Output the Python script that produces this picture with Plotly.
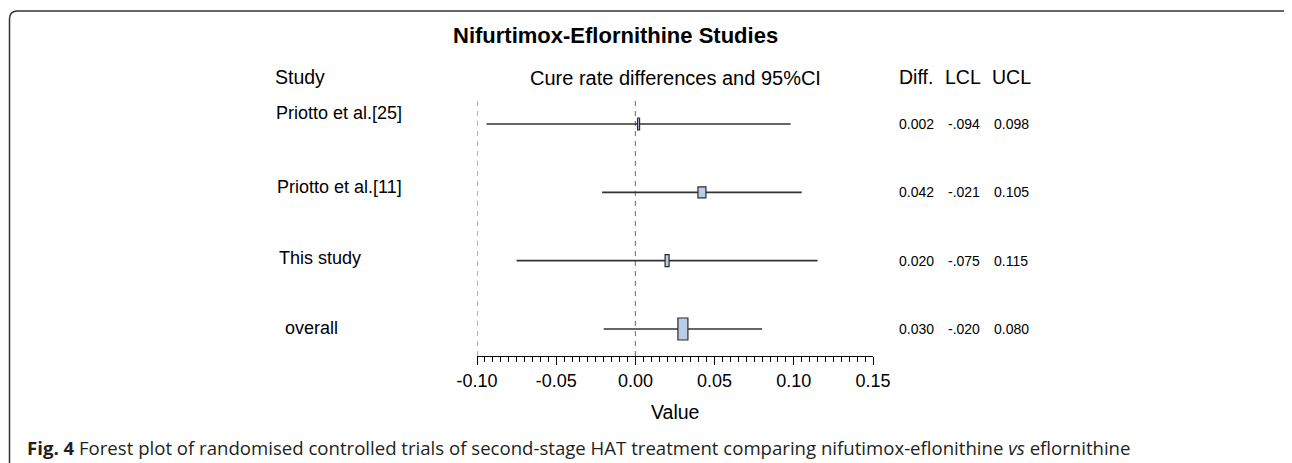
import plotly.graph_objects as go

# ---------------- data ----------------
studies = ["Priotto et al.[25]", "Priotto et al.[11]", "This study", "overall"]
diff = [0.002, 0.042, 0.020, 0.030]
lcl = [-0.094, -0.021, -0.075, -0.020]
ucl = [0.098, 0.105, 0.115, 0.080]
ref_lines = [-0.10, 0.00]
x_ticks = [-0.10, -0.05, 0.00, 0.05, 0.10, 0.15]

# ---------------- layout helpers (pixel geometry) ----------------
OFF = 8                      # default page body margin
W, H = 1292 - OFF, 463 - OFF
L, R, T, B = 477 - OFF, 873 - OFF, 98 - OFF, 356 - OFF
FONT = "Liberation Sans, Arial, sans-serif"


def pxx(x):
    """screen x -> paper x"""
    return (x - OFF - L) / (R - L)


def pxy(y):
    """screen y -> paper y"""
    return (B - (y - OFF)) / (B - T)


row_top_px, row_step_px = 124 - OFF, 68.333
y_lo = 3 + (B - (row_top_px + 3 * row_step_px)) / row_step_px
y_hi = -(row_top_px - T) / row_step_px

box_w = [2, 8, 4, 10]     # pixel sizes of the weight boxes
box_h = [12, 11, 12, 22]
label_x_px = [274, 275, 277, 283]
label_y_px = [113, 187, 258, 328]


def fmt(v):
    s = f"{v:.3f}"
    return s.replace("-0.", "-.")


fig = go.Figure()

# CI lines
for i in range(len(studies)):
    fig.add_trace(go.Scatter(
        x=[lcl[i], ucl[i]], y=[i, i], mode="lines",
        line=dict(color="#333333", width=1.6),
        hoverinfo="skip", showlegend=False))

shapes = []
# reference dashed lines
for xv in ref_lines:
    shapes.append(dict(type="line", xref="x", yref="paper", x0=xv, x1=xv,
                       y0=0, y1=1, line=dict(color="#808080", width=1.2, dash="5px,5px"),
                       layer="below"))
# weight boxes
for i in range(len(studies)):
    shapes.append(dict(type="rect", xref="x", yref="y",
                       xsizemode="pixel", ysizemode="pixel",
                       xanchor=diff[i], yanchor=i,
                       x0=-box_w[i] / 2, x1=box_w[i] / 2,
                       y0=-box_h[i] / 2, y1=box_h[i] / 2,
                       fillcolor="#b9cde5", line=dict(color="#2b2b2b", width=1.2)))

# rounded frame (screen pixels)
fl, ft, fr, fb, rr = 9.5, 11, 1290.5, 480, 8
path = (f"M {pxx(fl)},{pxy(fb)} L {pxx(fl)},{pxy(ft + rr)} "
        f"Q {pxx(fl)},{pxy(ft)} {pxx(fl + rr)},{pxy(ft)} "
        f"L {pxx(fr - rr)},{pxy(ft)} Q {pxx(fr)},{pxy(ft)} {pxx(fr)},{pxy(ft + rr)} "
        f"L {pxx(fr)},{pxy(fb)}")
shapes.append(dict(type="path", xref="paper", yref="paper", path=path,
                   line=dict(color="#333333", width=1.5)))

ann = []
ann.append(dict(text="<b>Nifurtimox-Eflornithine Studies</b>", x=pxx(615), y=pxy(35),
                xref="paper", yref="paper", showarrow=False, xanchor="center", yanchor="middle",
                font=dict(family=FONT, size=22, color="#000000")))
ann.append(dict(text="Study", x=pxx(273), y=pxy(77), xref="paper", yref="paper",
                showarrow=False, xanchor="left", yanchor="middle",
                font=dict(family=FONT, size=19.5, color="#000000")))
ann.append(dict(text="Cure rate differences and 95%CI", x=pxx(675), y=pxy(78), xref="paper",
                yref="paper", showarrow=False, xanchor="center", yanchor="middle",
                font=dict(family=FONT, size=20, color="#000000")))
for txt, xp in [("Diff.", 897), ("LCL", 943), ("UCL", 990)]:
    ann.append(dict(text=txt, x=pxx(xp), y=pxy(77), xref="paper", yref="paper",
                    showarrow=False, xanchor="left", yanchor="middle",
                    font=dict(family=FONT, size=19.5, color="#000000")))
for i, s in enumerate(studies):
    ann.append(dict(text=s, x=pxx(label_x_px[i]), y=pxy(label_y_px[i]), xref="paper",
                    yref="paper", showarrow=False, xanchor="left", yanchor="middle",
                    font=dict(family=FONT, size=18, color="#000000")))
    for val, xp in [(diff[i], 897), (lcl[i], 946), (ucl[i], 992)]:
        ann.append(dict(text=fmt(val), x=pxx(xp), y=i, xref="paper", yref="y",
                        showarrow=False, xanchor="left", yanchor="middle",
                        font=dict(family=FONT, size=14, color="#000000")))
ann.append(dict(text="Value", x=0.5, y=pxy(412), xref="paper", yref="paper",
                showarrow=False, xanchor="center", yanchor="middle",
                font=dict(family=FONT, size=19.5, color="#000000")))
ann.append(dict(text="<b>Fig. 4</b> Forest plot of randomised controlled trials of second-stage HAT "
                     "treatment comparing nifutimox-eflonithine <i>vs</i> eflornithine",
                x=pxx(25), y=pxy(447), xref="paper", yref="paper", showarrow=False,
                xanchor="left", yanchor="middle",
                font=dict(family="Open Sans, sans-serif", size=18.6, color="#231f20")))

fig.update_layout(
    width=W, height=H, autosize=False,
    margin=dict(l=L, r=W - R, t=T, b=H - B, pad=0),
    paper_bgcolor="white", plot_bgcolor="white",
    shapes=shapes, annotations=ann, showlegend=False,
    xaxis=dict(range=[-0.10, 0.15], tickvals=x_ticks, ticktext=[f"{v:.2f}" for v in x_ticks],
               showgrid=False, zeroline=False, showline=True, linecolor="#000000", linewidth=1.3,
               ticks="outside", ticklen=8, tickwidth=1.2, tickcolor="#000000",
               minor=dict(dtick=0.005, tick0=0, ticks="outside", ticklen=5, tickwidth=1,
                          tickcolor="#000000", showgrid=False),
               tickfont=dict(family=FONT, size=18, color="#000000"), fixedrange=True),
    yaxis=dict(range=[y_lo, y_hi], visible=False, showgrid=False, zeroline=False,
               fixedrange=True),
)

fig.write_html("out.html")
